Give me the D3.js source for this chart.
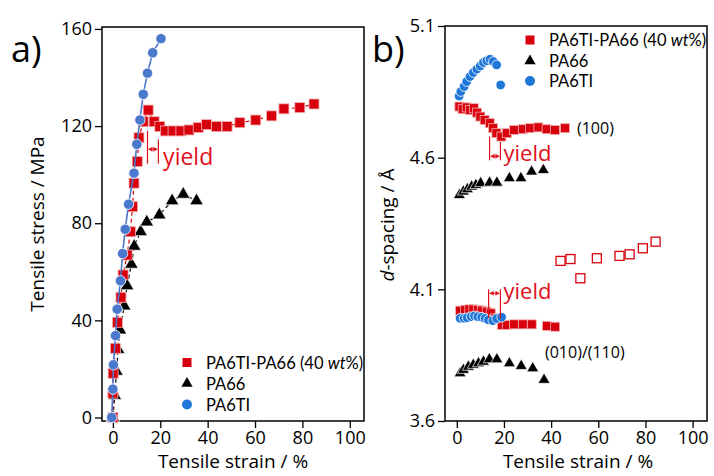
<!DOCTYPE html>
<html><head><meta charset="utf-8">
<script src="https://cdn.jsdelivr.net/npm/d3@7"></script>
<style>
body{margin:0;background:#fff;}
svg{font-family:"Open Sans","Noto Sans",sans-serif;}
</style></head>
<body><svg id="c" width="714" height="476"></svg>
<script>
// ---------- Panel a: stress-strain ----------
const blendStrainA = [0, 0, 0.1, 1.1, 1.9, 3.4, 4.3, 6.0, 7.4, 8.3, 8.9, 10.3, 11.0, 12.8, 14.9, 17.4, 19.8, 22.2, 25.4, 28.7, 32.1, 36.0, 39.5, 43.7, 48.2, 53.6, 60.3, 67.0, 72.2, 78.9, 84.9];
const blendStressA = [0, 10, 18.2, 28.5, 39.2, 49.5, 58.7, 66.9, 76.5, 86.8, 96.5, 105.4, 115.2, 121.8, 126.6, 121.8, 119.8, 118, 118, 118, 118.4, 119.4, 120.6, 119.8, 119.8, 121.4, 122.5, 124.2, 127.1, 127.6, 129.1];
const pa66StrainA = [0, 0.8, 1.5, 2.2, 3.0, 4.8, 6.0, 7.8, 9.0, 11.7, 14.3, 19.6, 25.0, 29.7, 35.3];
const pa66StressA = [0, 9, 19, 28, 36, 45.9, 54.2, 63.1, 70.5, 76.5, 80.5, 83.4, 89.2, 91.9, 89.2];
const pa6tiStrainA = [-0.5, 0, 0.2, 1.1, 1.8, 3.2, 4.1, 5.2, 6.6, 8.9, 10.1, 11.4, 12.8, 14.6, 16.8, 20.3];
const pa6tiStressA = [0, 11.7, 21.7, 33.7, 44.6, 56.3, 67.5, 77.5, 87.8, 100.6, 112.5, 122.5, 133.1, 141.8, 150.2, 156];
const ticksXA = [0, 20, 40, 60, 80, 100];
const ticksYA = [0, 40, 80, 120, 160];

// ---------- Panel b: d-spacing ----------
const blendStrainB100 = [1.1, 2.5, 4.2, 5.6, 7.2, 8.6, 10.0, 11.8, 14.0, 15.4, 16.8, 18.9, 21.2, 24.3, 28.0, 31.0, 34.6, 38.1, 41.6, 45.9];
const blendD100 = [4.794, 4.784, 4.791, 4.781, 4.788, 4.771, 4.756, 4.743, 4.731, 4.712, 4.693, 4.680, 4.693, 4.705, 4.708, 4.712, 4.715, 4.708, 4.705, 4.712];
const pa66StrainB100 = [1.1, 2.8, 4.5, 6.3, 8.1, 10.1, 13.9, 17.0, 22.3, 27.2, 31.7, 36.7];
const pa66D100 = [4.458, 4.471, 4.480, 4.490, 4.496, 4.503, 4.505, 4.505, 4.522, 4.522, 4.547, 4.553];
const pa6tiStrainB100 = [1.0, 1.7, 3.1, 4.2, 5.6, 7.0, 8.5, 9.9, 11.3, 12.7, 14.1, 15.5, 16.9, 18.6];
const pa6tiD100 = [4.834, 4.851, 4.870, 4.889, 4.908, 4.923, 4.936, 4.948, 4.961, 4.968, 4.974, 4.965, 4.952, 4.876];
const blendStrainB010 = [1.4, 3.5, 5.3, 7.0, 8.9, 10.6, 12.7, 14.4, 16.2, 19.1, 21.2, 24.3, 28.0, 31.8, 38.2, 41.7];
const blendD010 = [4.019, 4.022, 4.024, 4.024, 4.022, 4.019, 4.015, 4.009, 3.990, 3.965, 3.965, 3.967, 3.967, 3.967, 3.961, 3.958];
const blendOpenStrainB = [44.0, 48.2, 52.4, 59.4, 69.0, 73.3, 78.9, 84.3];
const blendOpenD = [4.208, 4.215, 4.142, 4.218, 4.227, 4.233, 4.256, 4.281];
const pa66StrainB010 = [1.4, 2.8, 4.9, 7.0, 9.2, 11.3, 13.8, 17.0, 22.3, 27.3, 32.2, 37.0];
const pa66D010 = [3.781, 3.794, 3.806, 3.813, 3.819, 3.825, 3.834, 3.834, 3.819, 3.809, 3.800, 3.756];
const pa6tiStrainB010 = [1.4, 3.1, 4.4, 6.1, 7.5, 8.9, 10.6, 12.0, 13.4, 15.3, 16.9, 19.0];
const pa6tiD010 = [3.990, 3.990, 3.992, 3.996, 3.999, 3.996, 3.994, 3.990, 3.984, 3.981, 3.989, 3.994];
const ticksXB = [0, 20, 40, 60, 80, 100];
const ticksYB = [3.6, 4.1, 4.6, 5.1];

const seriesNames = ["PA6TI-PA66 (40 ", "PA66", "PA6TI"];
const RED = "#d8000c", BLUE_A = "#4a78cc", BLUE_B = "#1f77d8", ANN = "#e0101c";

const svg = d3.select("#c");
const zip = (a, b) => a.map((v, i) => [v, b[i]]);

function frame(g, x, y, tx, ty, fmtY) {
  const [x0, x1] = x.range(), [y0, y1] = y.range();
  const ax = g.append("g").attr("transform", `translate(0,${y0})`)
    .call(d3.axisBottom(x).tickValues(tx).tickSize(7).tickSizeOuter(0).tickPadding(3));
  const ay = g.append("g").attr("transform", `translate(${x0},0)`)
    .call(d3.axisLeft(y).tickValues(ty).tickSize(7).tickSizeOuter(0).tickPadding(3).tickFormat(fmtY));
  [ax, ay].forEach(a => {
    a.select(".domain").remove();
    a.selectAll("line").attr("stroke", "#000").attr("stroke-width", 1.3);
    a.selectAll("text").attr("fill", "#000").style("font-size", "18px").style("font-family", "'Open Sans'");
  });
  g.append("rect").attr("x", x0).attr("y", y1).attr("width", x1 - x0).attr("height", y0 - y1)
    .attr("fill", "none").attr("stroke", "#000").attr("stroke-width", 1.5);
}

function squares(g, pts, x, y, s, fill, stroke, sw) {
  g.append("g").selectAll("rect").data(pts).join("rect")
    .attr("x", d => x(d[0]) - s / 2).attr("y", d => y(d[1]) - s / 2)
    .attr("width", s).attr("height", s).attr("fill", fill).attr("stroke", stroke).attr("stroke-width", sw);
}
function triangles(g, pts, x, y, s) {
  const sym = d3.symbol().type(d3.symbolTriangle).size(s);
  g.append("g").selectAll("path").data(pts).join("path")
    .attr("transform", d => `translate(${x(d[0])},${y(d[1])})`).attr("d", sym)
    .attr("fill", "#000").attr("stroke", "#fff").attr("stroke-width", 0.7);
}
function circles(g, pts, x, y, r, fill) {
  g.append("g").selectAll("circle").data(pts).join("circle")
    .attr("cx", d => x(d[0])).attr("cy", d => y(d[1])).attr("r", r)
    .attr("fill", fill).attr("stroke", "#fff").attr("stroke-width", 0.8);
}
function yieldMark(g, xl, xr, yTopL, yTopR, yBot, yArrow, tx, ty, fs) {
  const c = ANN;
  g.append("line").attr("x1", xl).attr("x2", xl).attr("y1", yTopL).attr("y2", yBot).attr("stroke", c).attr("stroke-width", 1.2);
  g.append("line").attr("x1", xr).attr("x2", xr).attr("y1", yTopR).attr("y2", yBot).attr("stroke", c).attr("stroke-width", 1.2);
  g.append("line").attr("x1", xl + 1).attr("x2", xr - 1).attr("y1", yArrow).attr("y2", yArrow).attr("stroke", c).attr("stroke-width", 1);
  g.append("path").attr("d", `M${xl + 1},${yArrow}l4,-2.5v5z M${xr - 1},${yArrow}l-4,-2.5v5z`).attr("fill", c);
  g.append("text").attr("x", tx).attr("y", ty).attr("fill", c).style("font-size", fs + "px").text("yield");
}

// ---------- Panel a ----------
const xA = d3.scaleLinear().domain([-4.6, 106]).range([102, 364]);
const yA = d3.scaleLinear().domain([-1.44, 160.8]).range([421, 27]);
const gA = svg.append("g");
frame(gA, xA, yA, ticksXA, ticksYA, d3.format("d"));

const line = (x, y) => d3.line().x(d => x(d[0])).y(d => y(d[1]));
const blendA = zip(blendStrainA, blendStressA), pa66A = zip(pa66StrainA, pa66StressA), pa6tiA = zip(pa6tiStrainA, pa6tiStressA);
gA.append("path").datum(pa66A).attr("d", line(xA, yA)).attr("fill", "none").attr("stroke", "#000").attr("stroke-width", 1.2).attr("stroke-dasharray", "4,3");
gA.append("path").datum(blendA).attr("d", line(xA, yA)).attr("fill", "none").attr("stroke", RED).attr("stroke-width", 1.2).attr("stroke-dasharray", "4,3");
triangles(gA, pa66A, xA, yA, 80);
squares(gA, blendA, xA, yA, 10, RED, "#f4b0b0", 0.8);
gA.append("path").datum(pa6tiA).attr("d", line(xA, yA)).attr("fill", "none").attr("stroke", BLUE_A).attr("stroke-width", 1.6);
circles(gA, pa6tiA, xA, yA, 5.2, BLUE_A);

yieldMark(gA, xA(14.6), xA(19.2), yA(118), yA(114.5), yA(104.5), yA(110.5), xA(21.2), yA(104), 23);

// legend a
const legA = gA.append("g");
const lyA = [362.5, 383.5, 404.5];
legA.append("rect").attr("x", 182.5).attr("y", lyA[0] - 4.5).attr("width", 9).attr("height", 9).attr("fill", RED);
legA.append("path").attr("transform", `translate(187,${lyA[1]})`).attr("d", d3.symbol().type(d3.symbolTriangle).size(55)).attr("fill", "#000");
legA.append("circle").attr("cx", 187).attr("cy", lyA[2]).attr("r", 5).attr("fill", BLUE_B);

function legendText(g, x, ys) {
  ys.forEach((yy, i) => {
    const t = g.append("text").attr("x", x).attr("y", yy + 6).style("font-size", "16.5px")
      .style("font-family", "Lato, 'Open Sans', sans-serif").attr("fill", "#000");
    if (i === 0) {
      t.append("tspan").text(seriesNames[0]);
      t.append("tspan").style("font-style", "italic").text("wt");
      t.append("tspan").text("%)");
    } else t.text(seriesNames[i]);
  });
}
legendText(legA, 206, lyA);

// axis titles a
gA.append("text").attr("x", 233).attr("y", 468).attr("text-anchor", "middle").style("font-size", "19px").text("Tensile strain / %");
gA.append("text").attr("transform", "translate(44,224) rotate(-90)").attr("text-anchor", "middle").style("font-size", "19px").text("Tensile stress / MPa");
svg.append("text").attr("x", 11).attr("y", 62).style("font-size", "36px").text("a)");

// ---------- Panel b ----------
const xB = d3.scaleLinear().domain([-5, 106.1]).range([445, 707]);
const yB = d3.scaleLinear().domain([3.6, 5.1]).range([421, 26]);
const gB = svg.append("g");
frame(gB, xB, yB, ticksXB, ticksYB, d3.format(".1f"));

triangles(gB, zip(pa66StrainB100, pa66D100), xB, yB, 62);
triangles(gB, zip(pa66StrainB010, pa66D010), xB, yB, 62);
squares(gB, zip(blendStrainB100, blendD100), xB, yB, 9, RED, "#f4b0b0", 0.8);
squares(gB, zip(blendStrainB010, blendD010), xB, yB, 9, RED, "#f4b0b0", 0.8);
squares(gB, zip(blendOpenStrainB, blendOpenD), xB, yB, 9, "#fff", RED, 1.3);
circles(gB, zip(pa6tiStrainB100, pa6tiD100), xB, yB, 4.8, BLUE_B);
circles(gB, zip(pa6tiStrainB010, pa6tiD010), xB, yB, 4.8, BLUE_B);

yieldMark(gB, xB(13.9), xB(18.5), yB(4.68), yB(4.66), yB(4.59), yB(4.605), xB(19.8), yB(4.587), 22);
yieldMark(gB, xB(13.5), xB(18.5), yB(4.1), yB(4.1), yB(3.99), yB(4.085), xB(19.8), yB(4.065), 22);

gB.append("text").attr("x", 577).attr("y", 134).style("font-size", "16px").text("(100)");
gB.append("text").attr("x", 545).attr("y", 358).style("font-size", "16px").text("(010)/(110)");

const legB = gB.append("g");
const lyB = [40, 61, 81];
legB.append("rect").attr("x", 525.5).attr("y", lyB[0] - 4.5).attr("width", 9).attr("height", 9).attr("fill", RED);
legB.append("path").attr("transform", `translate(530,${lyB[1]})`).attr("d", d3.symbol().type(d3.symbolTriangle).size(55)).attr("fill", "#000");
legB.append("circle").attr("cx", 530).attr("cy", lyB[2]).attr("r", 5).attr("fill", BLUE_B);
legendText(legB, 549, lyB);

gB.append("text").attr("x", 578).attr("y", 468).attr("text-anchor", "middle").style("font-size", "19px").text("Tensile strain / %");
const yt = gB.append("text").attr("transform", "translate(394,225) rotate(-90)").attr("text-anchor", "middle").style("font-size", "19px");
yt.append("tspan").style("font-style", "italic").text("d");
yt.append("tspan").text("-spacing / Å");
svg.append("text").attr("x", 372).attr("y", 62).style("font-size", "36px").text("b)");
</script></body></html>
